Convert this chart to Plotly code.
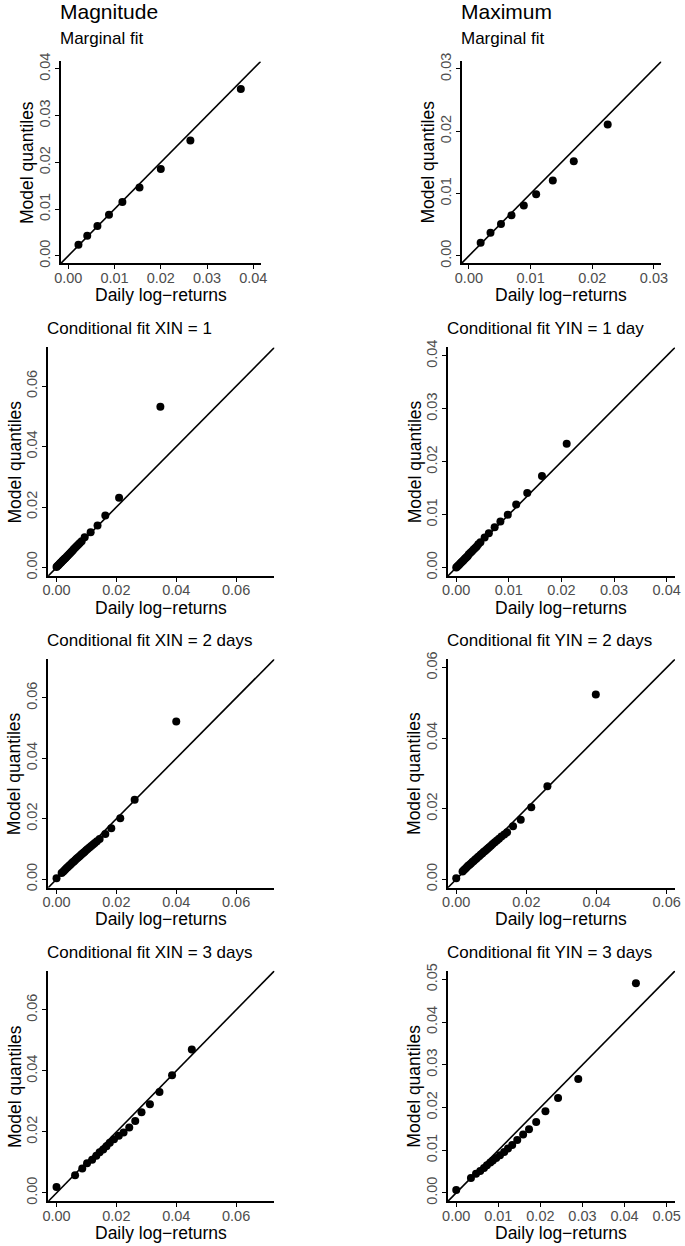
import plotly.graph_objects as go

W, H = 685, 1246

# ---------------- data ----------------
p1_x = [0.0022, 0.0041, 0.0063, 0.0088, 0.0117, 0.0154, 0.0200, 0.0264, 0.0373]
p1_y = [0.0024, 0.0043, 0.0064, 0.0088, 0.0115, 0.0146, 0.0186, 0.0247, 0.0357]

p2_x = [0.0019, 0.0035, 0.0052, 0.0069, 0.0089, 0.0109, 0.0136, 0.0170, 0.0225]
p2_y = [0.0021, 0.0037, 0.0051, 0.0065, 0.0081, 0.0099, 0.0121, 0.0152, 0.0211]

p3_x = [0.0000, 0.0003, 0.0006, 0.0009, 0.0012, 0.0015, 0.0018, 0.0021, 0.0024, 0.0027,
        0.0030, 0.0034, 0.0038, 0.0042, 0.0046, 0.0050, 0.0054, 0.0058, 0.0063, 0.0068,
        0.0073, 0.0078, 0.0084, 0.0094, 0.0114, 0.0137, 0.0163, 0.0209, 0.0347]
p3_y = [0.0002, 0.0005, 0.0008, 0.0011, 0.0014, 0.0017, 0.0020, 0.0023, 0.0026, 0.0029,
        0.0032, 0.0036, 0.0040, 0.0044, 0.0048, 0.0052, 0.0056, 0.0061, 0.0066, 0.0071,
        0.0076, 0.0081, 0.0087, 0.0100, 0.0117, 0.0139, 0.0172, 0.0231, 0.0532]

p4_x = [0.0000, 0.0002, 0.0004, 0.0006, 0.0008, 0.0010, 0.0012, 0.0014, 0.0016, 0.0018,
        0.0020, 0.0022, 0.0024, 0.0027, 0.0030, 0.0033, 0.0036, 0.0039, 0.0042, 0.0046,
        0.0054, 0.0062, 0.0073, 0.0084, 0.0098, 0.0114, 0.0135, 0.0163, 0.0210]
p4_y = [0.0000, 0.0002, 0.0004, 0.0006, 0.0008, 0.0010, 0.0012, 0.0014, 0.0016, 0.0018,
        0.0020, 0.0022, 0.0025, 0.0028, 0.0031, 0.0034, 0.0037, 0.0040, 0.0044, 0.0048,
        0.0057, 0.0065, 0.0076, 0.0087, 0.0100, 0.0119, 0.0141, 0.0173, 0.0234]

p5_x = [0.0000, 0.0017, 0.0022, 0.0026, 0.0030, 0.0034, 0.0038, 0.0042, 0.0046, 0.0050,
        0.0054, 0.0058, 0.0062, 0.0066, 0.0070, 0.0074, 0.0078, 0.0082, 0.0086, 0.0090,
        0.0094, 0.0099, 0.0104, 0.0110, 0.0116, 0.0122, 0.0128, 0.0135, 0.0144, 0.0163,
        0.0183, 0.0213, 0.0261, 0.0400]
p5_y = [0.0003, 0.0021, 0.0025, 0.0029, 0.0033, 0.0037, 0.0041, 0.0045, 0.0048, 0.0052,
        0.0056, 0.0059, 0.0063, 0.0067, 0.0070, 0.0074, 0.0077, 0.0081, 0.0084, 0.0088,
        0.0091, 0.0096, 0.0100, 0.0105, 0.0110, 0.0115, 0.0120, 0.0126, 0.0133, 0.0150,
        0.0169, 0.0202, 0.0263, 0.0522]

p6_x = [0.0000, 0.0018, 0.0022, 0.0026, 0.0030, 0.0034, 0.0038, 0.0042, 0.0046, 0.0050,
        0.0054, 0.0058, 0.0062, 0.0066, 0.0070, 0.0074, 0.0078, 0.0082, 0.0086, 0.0090,
        0.0094, 0.0099, 0.0104, 0.0110, 0.0116, 0.0122, 0.0129, 0.0137, 0.0145, 0.0162,
        0.0184, 0.0214, 0.0260, 0.0398]
p6_y = [0.0003, 0.0022, 0.0026, 0.0030, 0.0034, 0.0038, 0.0041, 0.0045, 0.0049, 0.0052,
        0.0056, 0.0059, 0.0063, 0.0066, 0.0070, 0.0073, 0.0077, 0.0080, 0.0084, 0.0087,
        0.0091, 0.0095, 0.0100, 0.0105, 0.0110, 0.0115, 0.0121, 0.0127, 0.0133, 0.0150,
        0.0169, 0.0204, 0.0264, 0.0524]

p7_x = [0.0000, 0.0062, 0.0086, 0.0102, 0.0119, 0.0133, 0.0144, 0.0156, 0.0167, 0.0178,
        0.0192, 0.0208, 0.0224, 0.0243, 0.0263, 0.0284, 0.0312, 0.0344, 0.0386, 0.0452]
p7_y = [0.0019, 0.0058, 0.0080, 0.0097, 0.0109, 0.0122, 0.0133, 0.0142, 0.0153, 0.0164,
        0.0176, 0.0187, 0.0198, 0.0214, 0.0236, 0.0264, 0.0291, 0.0331, 0.0386, 0.0470]

p8_x = [0.0000, 0.0035, 0.0047, 0.0057, 0.0066, 0.0073, 0.0081, 0.0087, 0.0095, 0.0104,
        0.0114, 0.0123, 0.0133, 0.0145, 0.0159, 0.0173, 0.0190, 0.0212, 0.0242, 0.0290, 0.0427]
p8_y = [0.0007, 0.0035, 0.0045, 0.0051, 0.0058, 0.0065, 0.0071, 0.0076, 0.0082, 0.0088,
        0.0096, 0.0104, 0.0112, 0.0124, 0.0137, 0.0149, 0.0166, 0.0191, 0.0222, 0.0267, 0.0491]

column_titles = ["Magnitude", "Maximum"]
panel_titles = ["Marginal fit", "Marginal fit",
                "Conditional fit XIN = 1", "Conditional fit YIN = 1 day",
                "Conditional fit XIN = 2 days", "Conditional fit YIN = 2 days",
                "Conditional fit XIN = 3 days", "Conditional fit YIN = 3 days"]
axis_max = [0.04, 0.03, 0.07, 0.04, 0.07, 0.06, 0.07, 0.05]
tick_step = [0.01, 0.01, 0.02, 0.01, 0.02, 0.02, 0.02, 0.01]
x_label = "Daily log\u2212returns"
y_label = "Model quantiles"

xs = [p1_x, p2_x, p3_x, p4_x, p5_x, p6_x, p7_x, p8_x]
ys = [p1_y, p2_y, p3_y, p4_y, p5_y, p6_y, p7_y, p8_y]

# ---------------- layout (pixel boxes of the plot regions) ----------------
boxes = [  # left, right, top, bottom (px)
    (55, 259, 53, 257), (464, 668, 53, 257),
    (42, 273, 342, 573), (450, 682, 342, 573),
    (42, 273, 657, 888), (450, 682, 657, 888),
    (42, 273, 972, 1205), (450, 682, 972, 1205),
]

FONT = "Liberation Sans, Arial, Helvetica, sans-serif"
TICK_COL = "#4d4d4d"

fig = go.Figure()
annotations = []

def px_x(v):
    return v / W

def px_y(v):
    return 1 - v / H

for i in range(8):
    l, r, t, b = boxes[i]
    mx = axis_max[i]
    lo, hi = -0.04 * mx, mx * 1.04
    sfx = "" if i == 0 else str(i + 1)
    xa, ya = "x" + sfx, "y" + sfx
    # reference line y = x across the plotting region
    fig.add_trace(go.Scatter(x=[lo, hi], y=[lo, hi], mode="lines",
                             line=dict(color="black", width=1.6),
                             xaxis=xa, yaxis=ya, hoverinfo="skip", showlegend=False))
    fig.add_trace(go.Scatter(x=xs[i], y=ys[i], mode="markers",
                             marker=dict(color="black", size=8, line=dict(width=0)),
                             xaxis=xa, yaxis=ya, showlegend=False, cliponaxis=False))
    tv = [k * tick_step[i] for k in range(int(mx / tick_step[i] + 1e-9) + 1)]
    tt = ["%.2f" % v for v in tv]
    common = dict(range=[lo, hi], showgrid=False, zeroline=False, showline=True,
                  linecolor="black", linewidth=2, ticks="outside", ticklen=4,
                  tickwidth=1, tickcolor="black", tickvals=tv, ticktext=tt,
                  tickfont=dict(family=FONT, size=14.5, color=TICK_COL), mirror=False)
    fig.layout["xaxis" + sfx] = dict(domain=[px_x(l), px_x(r)], anchor=ya,
                                     ticklabelstandoff=-4, **common)
    fig.layout["yaxis" + sfx] = dict(domain=[px_y(b), px_y(t)], anchor=xa,
                                     tickangle=-90, ticklabelstandoff=-1, **common)
    # panel title (left aligned with plot region)
    title_y = t - 19 if i >= 2 else 30
    annotations.append(dict(text=panel_titles[i], x=px_x(l - 3), y=px_y(title_y),
                            xref="paper", yref="paper", xanchor="left", yanchor="middle",
                            showarrow=False, font=dict(family=FONT, size=17, color="black")))
    # axis titles
    annotations.append(dict(text=x_label, x=px_x((l + r) / 2), y=px_y(b + 32),
                            xref="paper", yref="paper", xanchor="center", yanchor="middle",
                            showarrow=False, font=dict(family=FONT, size=17.5, color="black")))
    annotations.append(dict(text=y_label, x=px_x(l - 34), y=px_y((t + b) / 2),
                            xref="paper", yref="paper", xanchor="center", yanchor="middle",
                            textangle=-90, showarrow=False,
                            font=dict(family=FONT, size=17.5, color="black")))

for j, ttl in enumerate(column_titles):
    l = boxes[j][0]
    annotations.append(dict(text=ttl, x=px_x(l - 3), y=px_y(3), xref="paper", yref="paper",
                            xanchor="left", yanchor="middle", showarrow=False,
                            font=dict(family=FONT, size=21, color="black")))

fig.update_layout(width=W, height=H, margin=dict(l=0, r=0, t=0, b=0),
                  paper_bgcolor="white", plot_bgcolor="white",
                  annotations=annotations, showlegend=False,
                  font=dict(family=FONT))

fig.write_html("out.html", config={"displayModeBar": False},
               post_script="document.body.style.margin='0';document.body.style.padding='0';")
